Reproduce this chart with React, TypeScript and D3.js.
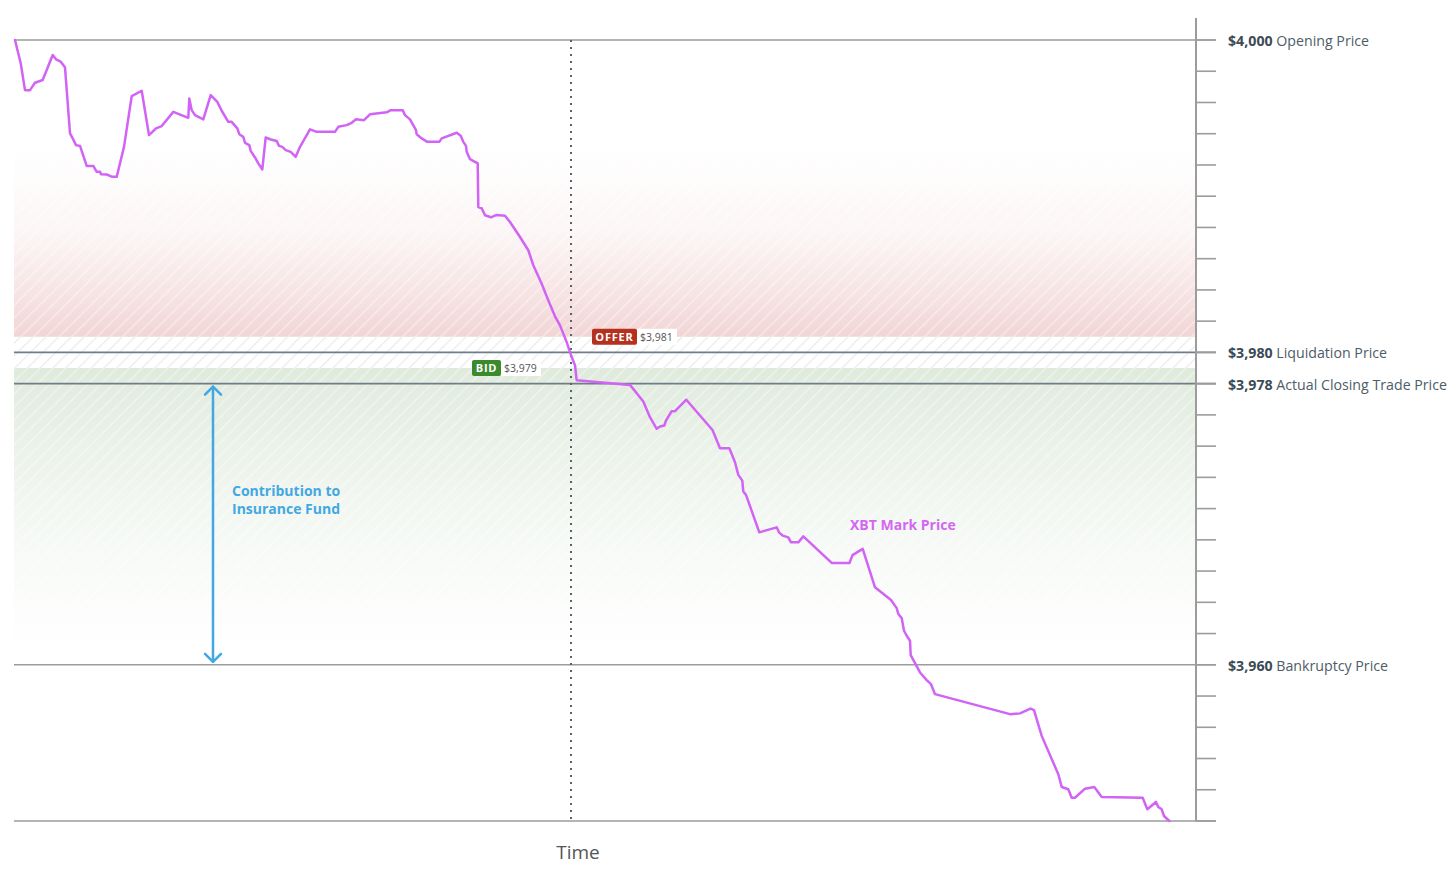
import React from "react";
import * as d3 from "d3";

// Time (arbitrary units) and XBT mark price
const times: number[] = [
  0.1, 0.67, 1.1, 1.6, 2.1, 2.87, 3.87, 4.2, 4.67, 5.1, 5.6, 5.87, 6.2, 6.6, 7.27, 7.93, 8.27, 8.6, 8.7, 9.27,
  9.83, 10.27, 11.0, 11.77, 12.77, 13.5, 14.2, 14.77, 15.93, 17.43, 17.53, 17.77, 18.1, 18.93, 19.67, 20.33, 20.77, 21.43, 21.77, 22.33,
  22.53, 22.93, 23.1, 23.53, 23.67, 24.1, 24.43, 24.83, 25.17, 25.67, 26.27, 26.5, 26.83, 27.17, 27.67, 28.17, 28.6, 29.6, 30.27, 32.1,
  32.43, 33.27, 33.77, 34.2, 35.0, 35.6, 37.27, 37.67, 38.87, 39.1, 39.6, 40.2, 40.27, 40.77, 41.33, 42.53, 42.77, 44.27, 44.67, 44.93,
  45.2, 45.27, 45.6, 46.37, 46.43, 46.77, 47.1, 47.7, 48.27, 49.1, 49.6, 50.6, 51.43, 51.93, 52.77, 53.43, 54.1, 54.6, 55.27, 55.77,
  56.1, 56.27, 61.6, 62.93, 63.6, 64.27, 64.6, 65.03, 65.2, 65.77, 66.1, 67.23, 69.85, 70.6, 71.53, 72.1, 72.43, 72.83, 72.93, 73.2,
  74.53, 76.27, 76.5, 76.87, 77.43, 77.7, 78.43, 78.93, 81.77, 83.55, 83.85, 84.87, 86.1, 87.7, 88.27, 88.43, 88.77, 89.0, 89.27, 89.6,
  89.67, 90.6, 91.27, 91.7, 92.1, 99.6, 100.6, 101.65, 102.0, 102.77, 104.43, 104.77, 105.43, 105.77, 106.1, 107.1, 108.03, 108.77, 112.87, 113.33,
  114.2, 114.43, 114.77, 115.0, 115.53,
];
const prices: number[] = [
  4000, 3998.51, 3996.79, 3996.79, 3997.26, 3997.44, 3999.04, 3998.76, 3998.61, 3998.25, 3994.02, 3993.7, 3993.27, 3993.22, 3991.94, 3991.94, 3991.56, 3991.56, 3991.41, 3991.39,
  3991.24, 3991.24, 3993.16, 3996.41, 3996.75, 3993.91, 3994.34, 3994.49, 3995.4, 3995.02, 3996.26, 3995.51, 3995.19, 3994.92, 3996.47, 3996.04, 3995.47, 3994.76, 3994.76, 3994.34,
  3993.97, 3993.8, 3993.42, 3993.27, 3992.9, 3992.48, 3992.1, 3991.71, 3993.76, 3993.63, 3993.53, 3993.22, 3993.16, 3992.95, 3992.84, 3992.52, 3993.16, 3994.28, 3994.12, 3994.12,
  3994.44, 3994.55, 3994.7, 3994.92, 3994.87, 3995.24, 3995.37, 3995.51, 3995.51, 3995.19, 3994.92, 3994.23, 3993.96, 3993.7, 3993.48, 3993.48, 3993.7, 3994.06, 3993.87, 3993.48,
  3993.22, 3992.84, 3992.37, 3992.1, 3989.31, 3989.23, 3988.78, 3988.65, 3988.8, 3988.75, 3988.35, 3987.39, 3986.54, 3985.58, 3984.4, 3983.33, 3982.31, 3981.73, 3980.66, 3979.7,
  3979.17, 3978.21, 3977.92, 3976.86, 3975.85, 3975.11, 3975.26, 3975.32, 3975.64, 3976.24, 3976.24, 3976.97, 3975.03, 3973.87, 3973.87, 3972.97, 3972.16, 3971.79, 3971.09, 3970.88,
  3968.48, 3968.8, 3968.48, 3968.27, 3968.16, 3967.84, 3967.84, 3968.22, 3966.52, 3966.52, 3967.02, 3967.42, 3964.96, 3964.15, 3963.63, 3963.25, 3962.99, 3962.18, 3961.86, 3961.54,
  3960.62, 3959.51, 3959.02, 3958.76, 3958.12, 3956.84, 3956.89, 3957.2, 3957.1, 3955.45, 3952.99, 3952.18, 3952.03, 3951.49, 3951.49, 3952.07, 3952.18, 3951.54, 3951.49, 3950.75,
  3951.22, 3950.9, 3950.75, 3950.32, 3950.0,
];

const timeDomain: [number, number] = [0, 118.2];
const priceDomain: [number, number] = [3950, 4000];
const tickValues: number[] = d3.range(3950, 4000.01, 2);

const levelValues: number[] = [4000, 3980, 3978, 3960];
const levelAmounts: string[] = ["$4,000", "$3,980", "$3,978", "$3,960"];
const levelNames: string[] = ["Opening Price", "Liquidation Price", "Actual Closing Trade Price", "Bankruptcy Price"];

const offerPrice = 3981;
const bidPrice = 3979;
const offerText = "$3,981";
const bidText = "$3,979";
const eventTime = 55.7;
const fundTime = 19.9;

export default function App() {
  const W = 1456, H = 870;
  const x = d3.scaleLinear().domain(timeDomain).range([14, 1196]);
  const y = d3.scaleLinear().domain(priceDomain).range([821, 40]);
  const pts = times.map((t, i) => [t, prices[i]] as [number, number]);
  const line = d3.line<[number, number]>().x((d) => x(d[0])).y((d) => y(d[1]));
  const font = "'Open Sans', 'Noto Sans', sans-serif";
  const x0 = x(timeDomain[0]);
  const x1 = x(timeDomain[1]);
  const redTop = y(3993);
  const greenBottom = y(3960.5);
  const ex = x(eventTime);
  const fx = x(fundTime);
  const aTop = y(3978) + 3;
  const aBot = y(3960) - 3;

  return (
    <svg width={W} height={H} style={{ position: "absolute", left: 0, top: 0, background: "#fff" }} fontFamily={font}>
      <defs>
        <linearGradient id="redG" x1="0" y1="0" x2="0" y2="1">
          <stop offset="0" stopColor="#f4d9d9" stopOpacity={0} />
          <stop offset="0.45" stopColor="#f4d9d9" stopOpacity={0.25} />
          <stop offset="1" stopColor="#f2d5d5" stopOpacity={1} />
        </linearGradient>
        <linearGradient id="greenG" x1="0" y1="0" x2="0" y2="1">
          <stop offset="0" stopColor="#dfeadc" stopOpacity={1} />
          <stop offset="0.45" stopColor="#e6efe4" stopOpacity={0.55} />
          <stop offset="1" stopColor="#eef4ec" stopOpacity={0} />
        </linearGradient>
        <pattern id="hatchW" width="9" height="9" patternUnits="userSpaceOnUse" patternTransform="rotate(45)">
          <line x1="0" y1="0" x2="0" y2="9" stroke="#ffffff" strokeWidth="3" strokeOpacity="0.4" />
        </pattern>
        <pattern id="hatchG" width="9" height="9" patternUnits="userSpaceOnUse" patternTransform="rotate(45)">
          <line x1="0" y1="0" x2="0" y2="9" stroke="#ebebeb" strokeWidth="2.5" />
        </pattern>
      </defs>

      {/* shaded zones */}
      <rect x={x0} y={redTop} width={x1 - x0} height={y(offerPrice) - redTop} fill="url(#redG)" />
      <rect x={x0} y={y(offerPrice)} width={x1 - x0} height={y(bidPrice) - y(offerPrice)} fill="url(#hatchG)" />
      <rect x={x0} y={y(bidPrice)} width={x1 - x0} height={greenBottom - y(bidPrice)} fill="url(#greenG)" />
      <rect x={x0} y={redTop} width={x1 - x0} height={y(offerPrice) - redTop} fill="url(#hatchW)" />
      <rect x={x0} y={y(bidPrice)} width={x1 - x0} height={greenBottom - y(bidPrice)} fill="url(#hatchW)" />

      {/* level lines */}
      {levelValues.map((v, i) => (
        <line key={"lv" + i} x1={x0} x2={1216} y1={y(v)} y2={y(v)}
          stroke={v === 3980 || v === 3978 ? "#6f7d88" : "#9c9c9c"} strokeWidth={1.6} />
      ))}
      <line x1={x0} x2={1216} y1={y(3950)} y2={y(3950)} stroke="#9c9c9c" strokeWidth={1.6} />

      {/* right axis */}
      <line x1={1196} x2={1196} y1={18} y2={y(3950)} stroke="#9c9c9c" strokeWidth={2} />
      {tickValues.map((v) => (
        <line key={"t" + v} x1={1196} x2={1216} y1={y(v)} y2={y(v)} stroke="#9c9c9c" strokeWidth={1.6} />
      ))}
      {levelValues.map((v, i) => (
        <text key={"lt" + i} x={1228} y={y(v) + 6} fontSize={14.2} fill="#4d5c67">
          <tspan fontWeight={700} fill="#3c4b56">{levelAmounts[i]}</tspan>
          <tspan> {levelNames[i]}</tspan>
        </text>
      ))}

      {/* event dotted line */}
      <line x1={ex} x2={ex} y1={y(4000)} y2={y(3950)} stroke="#56626b" strokeWidth={2} strokeDasharray="2 5" />

      {/* price line */}
      <path d={line(pts) || ""} fill="none" stroke="#d163f5" strokeWidth={2.5} strokeLinejoin="round" strokeLinecap="round" />

      {/* offer / bid badges */}
      <g>
        <rect x={637} y={y(offerPrice) - 8} width={40} height={16} fill="#ffffff" />
        <rect x={592} y={y(offerPrice) - 8} width={45} height={16} rx={2} fill="#b5311f" />
        <text x={614.5} y={y(offerPrice) + 4} fontSize={11} fontWeight={700} fill="#fff" textAnchor="middle" letterSpacing={0.8}>OFFER</text>
        <text x={640} y={y(offerPrice) + 4} fontSize={10.5} fill="#555">{offerText}</text>
      </g>
      <g>
        <rect x={501} y={y(bidPrice) - 8} width={40} height={16} fill="#ffffff" />
        <rect x={472} y={y(bidPrice) - 8} width={29} height={16} rx={2} fill="#3b8a2d" />
        <text x={486.5} y={y(bidPrice) + 4} fontSize={11} fontWeight={700} fill="#fff" textAnchor="middle" letterSpacing={0.8}>BID</text>
        <text x={504} y={y(bidPrice) + 4} fontSize={10.5} fill="#555">{bidText}</text>
      </g>

      {/* insurance fund arrow */}
      <g stroke="#42a8e3" strokeWidth={2.5} fill="none" strokeLinecap="round" strokeLinejoin="round">
        <line x1={fx} x2={fx} y1={aTop} y2={aBot} />
        <polyline points={`${fx - 8},${aTop + 8} ${fx},${aTop} ${fx + 8},${aTop + 8}`} />
        <polyline points={`${fx - 8},${aBot - 8} ${fx},${aBot} ${fx + 8},${aBot - 8}`} />
      </g>
      <text x={232} y={496} fontSize={14} fontWeight={700} fill="#42a8e3">Contribution to</text>
      <text x={232} y={514} fontSize={14} fontWeight={700} fill="#42a8e3">Insurance Fund</text>

      <text x={850} y={530} fontSize={14} fontWeight={700} fill="#d466f2">XBT Mark Price</text>

      <text x={578} y={859} fontSize={19} fill="#555" textAnchor="middle">Time</text>
    </svg>
  );
}
